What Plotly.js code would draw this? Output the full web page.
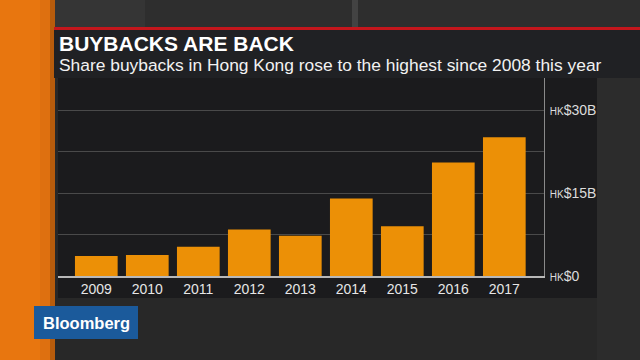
<!DOCTYPE html>
<html>
<head>
<meta charset="utf-8">
<script src="https://cdn.plot.ly/plotly-3.0.1.min.js"></script>
<style>
  html, body { margin: 0; padding: 0; background: #2a2a2a; }
  #chart { width: 640px; height: 360px; }
</style>
</head>
<body>
<div id="chart"></div>
<script>
// ---- data ----
const years = ['2009', '2010', '2011', '2012', '2013', '2014', '2015', '2016', '2017'];
const buybacksHKDbn = [3.6, 3.8, 5.3, 8.4, 7.3, 14.0, 9.0, 20.5, 25.1];
const yTickVals = [0, 7.5, 15, 22.5, 30];
const hk = '<span style="font-size:10px;fill:#dcdcdc;color:#dcdcdc">HK</span>';
const yTickText = [hk + '$0', '', hk + '$15B', '', hk + '$30B'];
const titleText = 'BUYBACKS ARE BACK';
const subtitleText = 'Share buybacks in Hong Kong rose to the highest since 2008 this year';
const logoText = 'Bloomberg';

// ---- helpers (pixel -> paper) ----
const W = 640, H = 360;
const px = x => x / W;
const py = y => 1 - y / H;

const FONT = '"Liberation Sans", Arial, sans-serif';

const shapes = [
  // top background band
  {type: 'rect', xref: 'paper', yref: 'paper', x0: 0, x1: 1, y0: py(28), y1: 1,
   fillcolor: '#2e2e2e', line: {width: 0}, layer: 'below'},
  {type: 'rect', xref: 'paper', yref: 'paper', x0: px(352), x1: px(358), y0: py(28), y1: 1,
   fillcolor: '#434343', line: {width: 0}, layer: 'below'},
  {type: 'rect', xref: 'paper', yref: 'paper', x0: px(54), x1: px(145), y0: py(28), y1: 1,
   fillcolor: '#353535', line: {width: 0}, layer: 'below'},
  // right background
  {type: 'rect', xref: 'paper', yref: 'paper', x0: px(597), x1: 1, y0: 0, y1: py(78),
   fillcolor: '#2c2c2c', line: {width: 0}, layer: 'below'},
  // orange strip
  {type: 'rect', xref: 'paper', yref: 'paper', x0: 0, x1: px(40), y0: 0, y1: 1,
   fillcolor: '#e8760f', line: {width: 0}, layer: 'below'},
  {type: 'rect', xref: 'paper', yref: 'paper', x0: px(40), x1: px(50), y0: 0, y1: 1,
   fillcolor: '#de7010', line: {width: 0}, layer: 'below'},
  {type: 'rect', xref: 'paper', yref: 'paper', x0: px(50), x1: px(55), y0: 0, y1: 1,
   fillcolor: '#b85c0c', line: {width: 0}, layer: 'below'},
  // red rule
  {type: 'rect', xref: 'paper', yref: 'paper', x0: px(54), x1: 1, y0: py(30), y1: py(27),
   fillcolor: '#c4161c', line: {width: 0}, layer: 'below'},
  // title panel
  {type: 'rect', xref: 'paper', yref: 'paper', x0: px(54), x1: 1, y0: py(78), y1: py(30),
   fillcolor: '#202124', line: {width: 0}, layer: 'below'},
  // chart panel
  {type: 'rect', xref: 'paper', yref: 'paper', x0: px(58), x1: px(597), y0: py(298), y1: py(78),
   fillcolor: '#1b1b1d', line: {width: 0}, layer: 'below'},
  // logo box
  {type: 'rect', xref: 'paper', yref: 'paper', x0: px(34), x1: px(138), y0: py(339), y1: py(306),
   fillcolor: '#1b5a9b', line: {width: 0}, layer: 'above'}
];

const annotations = [
  {xref: 'paper', yref: 'paper', x: px(56.5), y: py(43.5), xanchor: 'left', yanchor: 'middle',
   text: '<b>' + titleText + '</b>', showarrow: false,
   font: {family: FONT, size: 21, color: '#ffffff'}},
  {xref: 'paper', yref: 'paper', x: px(56.5), y: py(64.5), xanchor: 'left', yanchor: 'middle',
   text: subtitleText, showarrow: false,
   font: {family: FONT, size: 17.4, color: '#f2f2f2'}},
  {xref: 'paper', yref: 'paper', x: px(86), y: py(322.5), xanchor: 'center', yanchor: 'middle',
   text: '<b>' + logoText + '</b>', showarrow: false,
   font: {family: FONT, size: 16.5, color: '#ffffff'}}
];

const trace = {
  type: 'bar',
  x: years,
  y: buybacksHKDbn,
  marker: {color: '#ec9006', line: {width: 0}},
  hoverinfo: 'skip'
};

const layout = {
  width: W, height: H,
  margin: {l: 0, r: 0, t: 0, b: 0, pad: 0},
  paper_bgcolor: '#282828',
  plot_bgcolor: 'rgba(0,0,0,0)',
  showlegend: false,
  bargap: 0.163,
  xaxis: {
    type: 'category',
    categoryorder: 'array',
    categoryarray: years,
    domain: [px(58), px(544)],
    range: [-0.751, 8.778],
    showgrid: false,
    zeroline: false,
    showline: true,
    linecolor: '#b8b8b8',
    linewidth: 1.5,
    ticks: '',
    tickfont: {family: FONT, size: 14, color: '#e6e6e6'},
    fixedrange: true
  },
  yaxis: {
    domain: [py(276), py(78)],
    range: [0, 35.8],
    side: 'right',
    tickmode: 'array',
    tickvals: yTickVals,
    ticktext: yTickText,
    showgrid: true,
    gridcolor: '#4a4a4a',
    gridwidth: 1,
    zeroline: false,
    showline: true,
    linecolor: '#8a8a8a',
    linewidth: 1,
    ticks: '',
    ticklabelstandoff: 2,
    tickfont: {family: FONT, size: 14, color: '#dcdcdc'},
    fixedrange: true
  },
  shapes: shapes,
  annotations: annotations
};

Plotly.newPlot('chart', [trace], layout, {displayModeBar: false, staticPlot: true});
</script>
</body>
</html>
